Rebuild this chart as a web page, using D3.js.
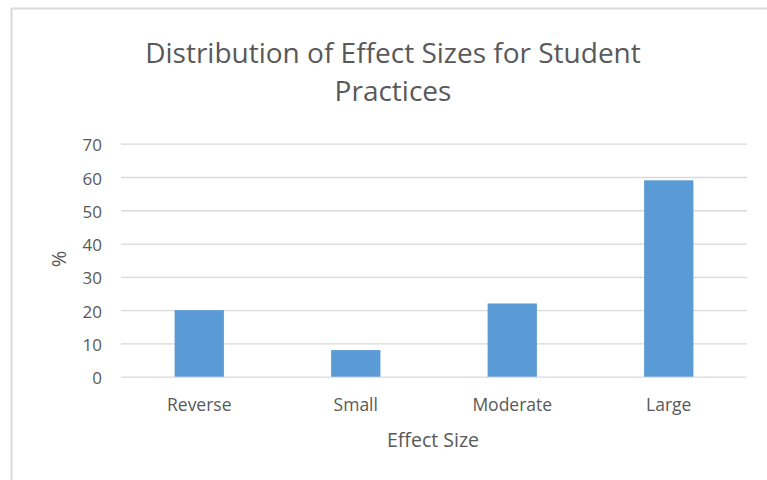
<!DOCTYPE html>
<html lang="en">
<head>
<meta charset="utf-8">
<title>Distribution of Effect Sizes</title>
<script src="https://d3js.org/d3.v7.min.js"></script>
<style>
  body { margin: 0; background: #fff; }
  text { font-family: "Open Sans", sans-serif; fill: #595959; }
</style>
</head>
<body>
<div id="chart"></div>
<script>
// data
var categories = ["Reverse", "Small", "Moderate", "Large"];
var values = [20, 8, 22, 59];
var yTicks = [0, 10, 20, 30, 40, 50, 60, 70];
var titleLines = ["Distribution of Effect Sizes for Student", "Practices"];

var w = 767, h = 480;
var plot = { left: 121, right: 747, top: 143.7, bottom: 376.7 };

var svg = d3.select("#chart").append("svg")
    .attr("width", w)
    .attr("height", h);

// chart frame
svg.append("rect")
    .attr("x", 11.5).attr("y", 8.5)
    .attr("width", 800).attr("height", 500)
    .attr("fill", "none")
    .attr("stroke", "#d9d9d9")
    .attr("stroke-width", 2);

var x = d3.scaleBand()
    .domain(categories)
    .range([plot.left, plot.right])
    .paddingInner(0.685)
    .paddingOuter(0.3425);

var y = d3.scaleLinear()
    .domain([0, 70])
    .range([plot.bottom, plot.top]);

// gridlines + y labels
var yAxis = d3.axisLeft(y)
    .tickValues(yTicks)
    .tickSize(-(plot.right - plot.left))
    .tickPadding(19);

var gy = svg.append("g")
    .attr("transform", "translate(" + plot.left + ",0)")
    .call(yAxis);
gy.select(".domain").remove();
gy.selectAll("line").attr("stroke", "#d9d9d9").attr("stroke-width", 1.3);
gy.selectAll("text").style("font-size", "17px").attr("fill", "#595959")
    .attr("dy", "0.42em");

// bars
svg.append("g").selectAll("rect")
    .data(values)
    .enter()
    .append("rect")
    .attr("x", function(d, i) { return x(categories[i]); })
    .attr("y", function(d) { return y(d); })
    .attr("width", x.bandwidth())
    .attr("height", function(d) { return y(0) - y(d); })
    .attr("fill", "#5b9bd5");

// x axis labels
var xAxis = d3.axisBottom(x).tickSize(0).tickPadding(22);
var gx = svg.append("g")
    .attr("transform", "translate(0," + plot.bottom + ")")
    .call(xAxis);
gx.select(".domain").remove();
gx.selectAll("text").style("font-size", "17.5px").attr("fill", "#595959");

// title
svg.append("g").selectAll("text")
    .data(titleLines)
    .enter()
    .append("text")
    .attr("x", 393)
    .attr("y", function(d, i) { return 63 + i * 38; })
    .attr("text-anchor", "middle")
    .style("font-size", "28px")
    .text(function(d) { return d; });

// axis titles
svg.append("text")
    .attr("x", 433)
    .attr("y", 446.5)
    .attr("text-anchor", "middle")
    .style("font-size", "19.5px")
    .text("Effect Size");

svg.append("text")
    .attr("transform", "translate(59,259) rotate(-90)")
    .attr("text-anchor", "middle")
    .attr("dy", "0.35em")
    .style("font-size", "20px")
    .text("%");
</script>
</body>
</html>
